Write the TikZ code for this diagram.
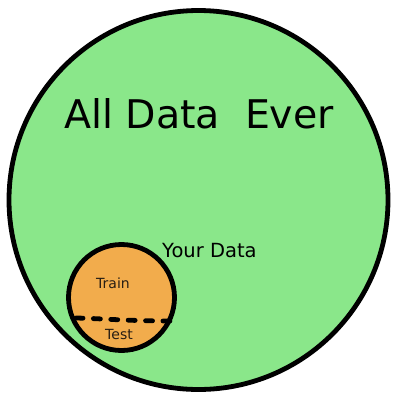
\documentclass[tikz,border=0pt]{standalone}
\usepackage{fontspec}
\setmainfont{DejaVu Sans}
\definecolor{allgreen}{RGB}{138,231,138}
\definecolor{yourorange}{RGB}{242,172,76}
\definecolor{smalltext}{RGB}{40,30,20}
\tikzset{
  bigcirc/.style={circle, draw=black, line width=4.8pt, fill=allgreen, minimum size=379pt, inner sep=0pt, outer sep=0pt},
  smallcirc/.style={circle, draw=black, line width=4.8pt, fill=yourorange, minimum size=106pt, inner sep=0pt, outer sep=0pt},
  split/.style={line width=4.8pt, dash pattern=on 7pt off 10.4pt, line cap=round},
  lbl/.style={inner sep=0pt, anchor=base}
}
\begin{document}
\begin{tikzpicture}[x=1pt,y=-1pt]
\useasboundingbox (0,0) rectangle (400,400);
\node[bigcirc] (all) at (198.5,200) {};
\node[lbl, font=\fontsize{39.5}{46}\selectfont] (title) at (199,128) {All Data\ \ Ever};
\node[smallcirc] (yd) at (121.5,297.5) {};
\node[lbl, anchor=base west, font=\fontsize{19.5}{23}\selectfont] (ydl) at (162,257) {Your Data};
\node[lbl, text=smalltext, font=\fontsize{14}{17}\selectfont] (train) at (113,288) {Train};
\node[lbl, text=smalltext, font=\fontsize{14}{17}\selectfont] (test) at (119,339) {Test};
\coordinate (sl) at (76,318);
\coordinate (sr) at (170,321);
\draw[split] (sl) .. controls (100,318.5) and (130,321) .. (sr);
\end{tikzpicture}
\end{document}
